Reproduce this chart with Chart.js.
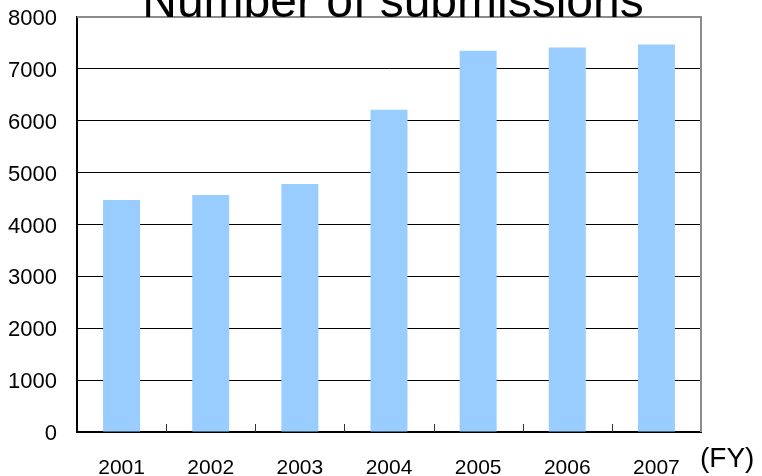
<!DOCTYPE html>
<html>
<head>
<meta charset="utf-8">
<script src="https://cdn.jsdelivr.net/npm/chart.js@4"></script>
<style>
  html, body { margin: 0; padding: 0; background: #fff; }
  #wrap { width: 762px; height: 476px; }
</style>
</head>
<body>
<div id="wrap"><canvas id="subChart" width="762" height="476"></canvas></div>
<script>
// submissions per fiscal year
const years = ['2001', '2002', '2003', '2004', '2005', '2006', '2007'];
const submissions = [4470, 4570, 4780, 6210, 7350, 7410, 7470];
const yTicks = [0, 1000, 2000, 3000, 4000, 5000, 6000, 7000, 8000];

const FONT = '"Liberation Sans", Arial, sans-serif';

// title, gray top/right frame, small inner ticks between years, (FY) unit
const framePlugin = {
  id: 'frame',
  afterDatasetsDraw(chart) {
    const { ctx, chartArea: a, scales: { x } } = chart;
    ctx.save();

    ctx.strokeStyle = '#8c8c8c';
    ctx.lineWidth = 2;
    ctx.beginPath();
    ctx.moveTo(a.left, a.top);
    ctx.lineTo(a.right, a.top);
    ctx.lineTo(a.right, a.bottom);
    ctx.stroke();

    ctx.strokeStyle = '#333';
    ctx.lineWidth = 1;
    const half = (x.getPixelForValue(1) - x.getPixelForValue(0)) / 2;
    for (let i = 0; i < years.length - 1; i++) {
      const px = Math.round(x.getPixelForValue(i) + half) + 0.5;
      ctx.beginPath();
      ctx.moveTo(px, a.bottom);
      ctx.lineTo(px, a.bottom - 8);
      ctx.stroke();
    }

    ctx.fillStyle = '#000';
    ctx.textAlign = 'center';
    ctx.textBaseline = 'alphabetic';
    ctx.font = '48px ' + FONT;
    ctx.fillText('Number of submissions', (a.left + a.right) / 2 + 4, 17);

    ctx.textAlign = 'left';
    ctx.font = '28px ' + FONT;
    ctx.fillText('(FY)', a.right - 1, 467);
    ctx.restore();
  }
};

new Chart(document.getElementById('subChart').getContext('2d'), {
  type: 'bar',
  data: {
    labels: years,
    datasets: [{
      data: submissions,
      backgroundColor: '#99ccff',
      borderWidth: 0,
      categoryPercentage: 1,
      barPercentage: 0.415
    }]
  },
  options: {
    responsive: false,
    animation: false,
    layout: { padding: { top: 17, right: 61, left: 0, bottom: 0 } },
    plugins: { legend: { display: false }, tooltip: { enabled: false }, title: { display: false } },
    scales: {
      x: {
        grid: { display: false, drawTicks: false },
        border: { display: true, color: '#000', width: 2 },
        ticks: { color: '#000', font: { family: FONT, size: 21 }, padding: 24, maxRotation: 0 },
        afterFit(s) { s.height = 44; s.paddingLeft = 0; s.paddingRight = 0; }
      },
      y: {
        min: 0,
        max: 8000,
        afterBuildTicks(s) { s.ticks = yTicks.map(v => ({ value: v })); },
        grid: {
          color: ctx => (ctx.tick && ctx.tick.value === 8000 ? 'rgba(0,0,0,0)' : '#000'),
          lineWidth: 1,
          drawTicks: false
        },
        border: { display: true, color: '#000', width: 2 },
        ticks: { color: '#000', font: { family: FONT, size: 22 }, padding: 20, labelOffset: 2, callback: v => String(v) },
        afterFit(s) { s.width = 77; s.paddingTop = 0; s.paddingBottom = 0; }
      }
    }
  },
  plugins: [framePlugin]
});
</script>
</body>
</html>
